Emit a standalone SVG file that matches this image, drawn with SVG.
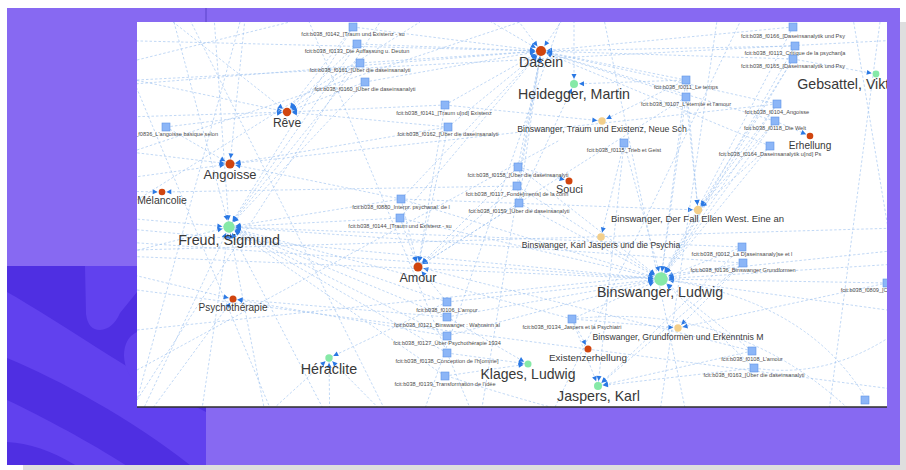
<svg xmlns="http://www.w3.org/2000/svg" width="906" height="470" viewBox="0 0 906 470">
<defs>
<style>
.e{stroke:#a6c7f1;stroke-width:0.7;stroke-dasharray:2.5 2;fill:none}
.a33{marker-end:url(#m33)}.a35{marker-end:url(#m35)}.a37{marker-end:url(#m37)}.a4{marker-end:url(#m4)}.a45{marker-end:url(#m45)}.a5{marker-end:url(#m5)}.a6{marker-end:url(#m6)}.a7{marker-end:url(#m7)}
.sq{fill:#8cb6f7;stroke:#5f95e6;stroke-width:0.6}
.red{fill:#d0450f}.grn{fill:#86e9a7}.yel{fill:#f3cf8b}
text{font-family:"Liberation Sans",Arial,sans-serif}
.sl{font-size:5.6px;fill:#4a4a4a;text-anchor:middle}
.lb{fill:#383838;text-anchor:middle}
</style>
<marker id="m33" markerUnits="userSpaceOnUse" orient="auto" markerWidth="6" markerHeight="6" refX="9.3" refY="2.5" overflow="visible"><path d="M0,0 L5,2.5 L0,5 Z" fill="#2a78e4"/></marker>
<marker id="m35" markerUnits="userSpaceOnUse" orient="auto" markerWidth="6" markerHeight="6" refX="9.5" refY="2.5" overflow="visible"><path d="M0,0 L5,2.5 L0,5 Z" fill="#2a78e4"/></marker>
<marker id="m37" markerUnits="userSpaceOnUse" orient="auto" markerWidth="6" markerHeight="6" refX="9.7" refY="2.5" overflow="visible"><path d="M0,0 L5,2.5 L0,5 Z" fill="#2a78e4"/></marker>
<marker id="m4" markerUnits="userSpaceOnUse" orient="auto" markerWidth="6" markerHeight="6" refX="10" refY="2.5" overflow="visible"><path d="M0,0 L5,2.5 L0,5 Z" fill="#2a78e4"/></marker>
<marker id="m45" markerUnits="userSpaceOnUse" orient="auto" markerWidth="6" markerHeight="6" refX="10.5" refY="2.5" overflow="visible"><path d="M0,0 L5,2.5 L0,5 Z" fill="#2a78e4"/></marker>
<marker id="m5" markerUnits="userSpaceOnUse" orient="auto" markerWidth="6" markerHeight="6" refX="11" refY="2.5" overflow="visible"><path d="M0,0 L5,2.5 L0,5 Z" fill="#2a78e4"/></marker>
<marker id="m6" markerUnits="userSpaceOnUse" orient="auto" markerWidth="6" markerHeight="6" refX="11.7" refY="2.5" overflow="visible"><path d="M0,0 L5,2.5 L0,5 Z" fill="#2a78e4"/></marker>
<marker id="m7" markerUnits="userSpaceOnUse" orient="auto" markerWidth="6" markerHeight="6" refX="12.7" refY="2.5" overflow="visible"><path d="M0,0 L5,2.5 L0,5 Z" fill="#2a78e4"/></marker>
<clipPath id="panel"><rect x="137" y="22" width="750" height="385"/></clipPath>
<clipPath id="dark"><rect x="7" y="266" width="199" height="199"/></clipPath>
</defs>

<!-- background -->
<rect x="0" y="0" width="906" height="470" fill="#ffffff"/>
<rect x="23" y="22" width="893" height="457" fill="#dedede"/>
<rect x="7" y="8" width="893" height="457" fill="#8769f2"/>
<g id="dark-block" clip-path="url(#dark)">
<rect x="7" y="266" width="199" height="199" fill="#4f2fe2"/>
<path d="M7,292 C60,322 130,372 206,412 L206,465 L190,465 C130,418 60,380 7,358 Z" fill="#6141ee"/>
<path d="M7,400 C45,418 95,445 130,468 L80,468 C55,452 30,443 7,442 Z" fill="#6141ee"/>
<path d="M85,266 L86,314 Q88,330 100,330 Q113,329 120,313 L137,292 L137,266 Z" fill="#6141ee"/>
<path d="M137,332 Q124,338 124,356 Q125,374 137,382 Z" fill="#6141ee"/>
</g>
<line x1="206" y1="8" x2="206" y2="22" stroke="#5a44c9" stroke-width="1"/>

<!-- panel -->
<rect x="137" y="22" width="750" height="385" fill="#ffffff"/>

<g clip-path="url(#panel)">
<g id="edges">
<!-- to Dasein -->
<line class="e a5" x1="353" y1="27" x2="541" y2="51"/>
<line class="e a5" x1="357" y1="44" x2="541" y2="51"/>
<line class="e a5" x1="360" y1="63" x2="541" y2="51"/>
<line class="e a5" x1="365" y1="82" x2="541" y2="51"/>
<line class="e a5" x1="445" y1="105" x2="541" y2="51"/>
<line class="e a5" x1="448" y1="127" x2="541" y2="51"/>
<line class="e a5" x1="518" y1="167" x2="541" y2="51"/>
<line class="e a5" x1="517" y1="186" x2="541" y2="51"/>
<line class="e a5" x1="519" y1="203" x2="541" y2="51"/>
<line class="e a5" x1="793" y1="27" x2="541" y2="51"/>
<line class="e a5" x1="795" y1="46" x2="541" y2="51"/>
<line class="e a5" x1="793" y1="59" x2="541" y2="51"/>
<line class="e a5" x1="686" y1="80" x2="541" y2="51"/>
<line class="e a5" x1="686" y1="97" x2="541" y2="51"/>
<line class="e a5" x1="777" y1="104" x2="541" y2="51"/>
<line class="e a5" x1="775" y1="121" x2="541" y2="51"/>
<line class="e a5" x1="770" y1="146" x2="541" y2="51"/>
<line class="e a5" x1="401" y1="199" x2="541" y2="51"/>
<line class="e a5" x1="400" y1="218" x2="541" y2="51"/>
<line class="e a5" x1="420" y1="-20" x2="541" y2="51"/>
<line class="e a5" x1="480" y1="-30" x2="541" y2="51"/>
<line class="e a5" x1="100" y1="40" x2="541" y2="51"/>
<line class="e a5" x1="60" y1="90" x2="541" y2="51"/>
<line class="e a5" x1="590" y1="-20" x2="541" y2="51"/>
<line class="e a5" x1="470" y1="480" x2="541" y2="51"/>
<!-- to Heidegger -->
<line class="e a4" x1="574" y1="-20" x2="574" y2="84"/>
<line class="e a4" x1="686" y1="80" x2="574" y2="84"/>
<line class="e a4" x1="519" y1="203" x2="574" y2="84"/>
<!-- to Reve -->
<line class="e a4" x1="353" y1="27" x2="287" y2="112"/>
<line class="e a4" x1="357" y1="44" x2="287" y2="112"/>
<line class="e a4" x1="360" y1="63" x2="287" y2="112"/>
<line class="e a4" x1="365" y1="82" x2="287" y2="112"/>
<line class="e a4" x1="445" y1="105" x2="287" y2="112"/>
<line class="e a4" x1="448" y1="127" x2="287" y2="112"/>
<line class="e a4" x1="166" y1="127" x2="287" y2="112"/>
<line class="e a4" x1="40" y1="60" x2="287" y2="112"/>
<line class="e a4" x1="30" y1="120" x2="287" y2="112"/>
<line class="e a4" x1="120" y1="-20" x2="287" y2="112"/>
<!-- to Angoisse -->
<line class="e a45" x1="777" y1="104" x2="230" y2="164"/>
<line class="e a45" x1="166" y1="127" x2="230" y2="164"/>
<line class="e a45" x1="30" y1="140" x2="230" y2="164"/>
<line class="e a45" x1="40" y1="190" x2="230" y2="164"/>
<line class="e a45" x1="448" y1="127" x2="230" y2="164"/>
<line class="e a45" x1="401" y1="199" x2="230" y2="164"/>
<line class="e a45" x1="250" y1="-30" x2="230" y2="164"/>
<!-- to Melancolie -->
<line class="e a33" x1="60" y1="190" x2="162" y2="192"/>
<line class="e a33" x1="517" y1="186" x2="162" y2="192"/>
<!-- to Freud -->
<line class="e a6" x1="401" y1="199" x2="229" y2="227"/>
<line class="e a6" x1="400" y1="218" x2="229" y2="227"/>
<line class="e a6" x1="447" y1="302" x2="229" y2="227"/>
<line class="e a6" x1="447" y1="317" x2="229" y2="227"/>
<line class="e a6" x1="447" y1="336" x2="229" y2="227"/>
<line class="e a6" x1="447" y1="353" x2="229" y2="227"/>
<line class="e a6" x1="445" y1="376" x2="229" y2="227"/>
<line class="e a6" x1="572" y1="319" x2="229" y2="227"/>
<line class="e a6" x1="743" y1="263" x2="229" y2="227"/>
<line class="e a6" x1="742" y1="247" x2="229" y2="227"/>
<line class="e a6" x1="353" y1="27" x2="229" y2="227"/>
<line class="e a6" x1="357" y1="44" x2="229" y2="227"/>
<line class="e a6" x1="360" y1="63" x2="229" y2="227"/>
<line class="e a6" x1="365" y1="82" x2="229" y2="227"/>
<line class="e a6" x1="30" y1="210" x2="229" y2="227"/>
<line class="e a6" x1="20" y1="280" x2="229" y2="227"/>
<line class="e a6" x1="160" y1="-30" x2="229" y2="227"/>
<line class="e a6" x1="210" y1="-40" x2="229" y2="227"/>
<line class="e a6" x1="110" y1="480" x2="229" y2="227"/>
<line class="e a6" x1="190" y1="490" x2="229" y2="227"/>
<line class="e a6" x1="280" y1="490" x2="229" y2="227"/>
<line class="e a6" x1="360" y1="480" x2="229" y2="227"/>
<!-- to Psychotherapie -->
<line class="e a35" x1="447" y1="336" x2="233" y2="299"/>
<line class="e a35" x1="447" y1="317" x2="233" y2="299"/>
<line class="e a35" x1="30" y1="250" x2="233" y2="299"/>
<line class="e a35" x1="100" y1="480" x2="233" y2="299"/>
<!-- to Heraclite -->
<line class="e a37" x1="447" y1="302" x2="329" y2="358"/>
<line class="e a37" x1="250" y1="430" x2="329" y2="358"/>
<line class="e a37" x1="330" y1="440" x2="329" y2="358"/>
<line class="e a37" x1="410" y1="440" x2="329" y2="358"/>
<!-- to Amour -->
<line class="e a45" x1="447" y1="302" x2="418" y2="267"/>
<line class="e a45" x1="686" y1="97" x2="418" y2="267"/>
<line class="e a45" x1="518" y1="167" x2="418" y2="267"/>
<line class="e a45" x1="517" y1="186" x2="418" y2="267"/>
<line class="e a45" x1="519" y1="203" x2="418" y2="267"/>
<line class="e a45" x1="445" y1="105" x2="418" y2="267"/>
<line class="e a45" x1="448" y1="127" x2="418" y2="267"/>
<line class="e a45" x1="752" y1="351" x2="418" y2="267"/>
<line class="e a45" x1="400" y1="218" x2="418" y2="267"/>
<line class="e a45" x1="401" y1="199" x2="418" y2="267"/>
<!-- to Souci -->
<line class="e a35" x1="518" y1="167" x2="569" y2="181"/>
<!-- to Binswanger, Traum -->
<line class="e a37" x1="445" y1="105" x2="602" y2="121"/>
<line class="e a37" x1="686" y1="80" x2="602" y2="121"/>
<!-- to Ellen West -->
<line class="e a4" x1="770" y1="146" x2="698" y2="210"/>
<line class="e a4" x1="775" y1="121" x2="698" y2="210"/>
<line class="e a4" x1="777" y1="104" x2="698" y2="210"/>
<line class="e a4" x1="686" y1="97" x2="698" y2="210"/>
<line class="e a4" x1="686" y1="80" x2="698" y2="210"/>
<line class="e a4" x1="401" y1="199" x2="698" y2="210"/>
<line class="e a4" x1="793" y1="59" x2="698" y2="210"/>
<!-- to Karl Jaspers Psychia -->
<line class="e a37" x1="624" y1="143" x2="601" y2="237"/>
<!-- to Binswanger, Ludwig -->
<line class="e a7" x1="770" y1="146" x2="661" y2="279"/>
<line class="e a7" x1="777" y1="104" x2="661" y2="279"/>
<line class="e a7" x1="775" y1="121" x2="661" y2="279"/>
<line class="e a7" x1="793" y1="59" x2="661" y2="279"/>
<line class="e a7" x1="795" y1="46" x2="661" y2="279"/>
<line class="e a7" x1="793" y1="27" x2="661" y2="279"/>
<line class="e a7" x1="742" y1="247" x2="661" y2="279"/>
<line class="e a7" x1="743" y1="263" x2="661" y2="279"/>
<line class="e a7" x1="572" y1="319" x2="661" y2="279"/>
<line class="e a7" x1="752" y1="351" x2="661" y2="279"/>
<line class="e a7" x1="754" y1="368" x2="661" y2="279"/>
<line class="e a7" x1="518" y1="167" x2="661" y2="279"/>
<line class="e a7" x1="517" y1="186" x2="661" y2="279"/>
<line class="e a7" x1="519" y1="203" x2="661" y2="279"/>
<line class="e a7" x1="401" y1="199" x2="661" y2="279"/>
<line class="e a7" x1="400" y1="218" x2="661" y2="279"/>
<line class="e a7" x1="447" y1="302" x2="661" y2="279"/>
<line class="e a7" x1="447" y1="317" x2="661" y2="279"/>
<line class="e a7" x1="447" y1="336" x2="661" y2="279"/>
<line class="e a7" x1="624" y1="143" x2="661" y2="279"/>
<line class="e a7" x1="686" y1="80" x2="661" y2="279"/>
<line class="e a7" x1="686" y1="97" x2="661" y2="279"/>
<line class="e a7" x1="960" y1="260" x2="661" y2="279"/>
<line class="e a7" x1="960" y1="320" x2="661" y2="279"/>
<line class="e a7" x1="887" y1="283" x2="661" y2="279"/>
<line class="e a7" x1="-20" y1="215" x2="661" y2="279"/>
<line class="e a7" x1="-20" y1="232" x2="661" y2="279"/>
<line class="e a7" x1="-20" y1="250" x2="661" y2="279"/>
<!-- to Grundformen -->
<line class="e a37" x1="572" y1="319" x2="678" y2="328"/>
<line class="e a37" x1="743" y1="263" x2="678" y2="328"/>
<line class="e a37" x1="887" y1="283" x2="678" y2="328"/>
<!-- to Existenzerhellung -->
<line class="e a35" x1="572" y1="319" x2="588" y2="349"/>
<!-- to Klages -->
<line class="e a35" x1="447" y1="353" x2="528" y2="364"/>
<line class="e a35" x1="445" y1="376" x2="528" y2="364"/>
<line class="e a35" x1="447" y1="317" x2="528" y2="364"/>
<!-- to Jaspers -->
<line class="e a4" x1="572" y1="319" x2="598" y2="386"/>
<line class="e a4" x1="624" y1="143" x2="598" y2="386"/>
<line class="e a4" x1="742" y1="247" x2="598" y2="386"/>
<line class="e a4" x1="752" y1="351" x2="598" y2="386"/>
<line class="e a4" x1="754" y1="368" x2="598" y2="386"/>
<line class="e a4" x1="743" y1="263" x2="598" y2="386"/>
<!-- to Erhellung, Gebsattel -->
<line class="e a33" x1="775" y1="121" x2="810" y2="136"/>
<line class="e a33" x1="793" y1="59" x2="876" y2="74"/>
<!-- pass-through -->
<line class="e" x1="100" y1="0" x2="300" y2="480"/>
<line class="e" x1="180" y1="0" x2="420" y2="480"/>
<line class="e" x1="300" y1="0" x2="500" y2="480"/>
<line class="e" x1="137" y1="80" x2="900" y2="40"/>
<line class="e" x1="137" y1="250" x2="900" y2="228"/>
<line class="e" x1="137" y1="330" x2="900" y2="250"/>
<line class="e" x1="137" y1="370" x2="560" y2="140"/>
<line class="e" x1="600" y1="0" x2="700" y2="480"/>
<line class="e" x1="720" y1="0" x2="650" y2="480"/>
<line class="e" x1="850" y1="0" x2="900" y2="300"/>
<line class="e" x1="137" y1="150" x2="520" y2="22"/>
<line class="e" x1="137" y1="400" x2="380" y2="22"/>
<line class="e" x1="880" y1="22" x2="820" y2="480"/>
<line class="e" x1="137" y1="290" x2="900" y2="390"/>
<line class="e" x1="400" y1="480" x2="560" y2="22"/>
<line class="e" x1="240" y1="22" x2="137" y2="400"/>
<line class="e" x1="137" y1="60" x2="290" y2="22"/>
<line class="e" x1="137" y1="200" x2="420" y2="22"/>
<line class="e" x1="520" y1="480" x2="740" y2="22"/>
<path class="e" d="M661,279 Q810,300 868,402"/>
<path class="e" d="M572,319 Q740,300 860,420"/>
<path class="e" d="M754,368 Q830,380 900,330"/>
<path class="e" d="M447,376 Q520,400 600,420"/>
</g>
</g>

<g id="nodes" clip-path="url(#panel)">
<g id="n-f0142"><rect class="sq" x="349" y="23" width="8" height="8"/><text class="sl" x="353" y="35.5">fcit:b038_f0142_[Traum und Existenz - su</text></g>
<g id="n-f0133"><rect class="sq" x="353" y="40" width="8" height="8"/><text class="sl" x="357" y="53">fcit:b038_f0133_Die Auffassung u. Deutun</text></g>
<g id="n-f0161"><rect class="sq" x="356" y="59" width="8" height="8"/><text class="sl" x="360" y="72">fcit:b038_f0161_[Über die daseinsanalyti</text></g>
<g id="n-f0160"><rect class="sq" x="361" y="78" width="8" height="8"/><text class="sl" x="365" y="91">fcit:b038_f0160_[Über die daseinsanalyti</text></g>
<g id="n-f0836"><rect class="sq" x="162" y="123" width="8" height="8"/><text class="sl" x="166" y="136">fcit:b038_f0836_L'angoisse basique selon</text></g>
<g id="n-f0141"><rect class="sq" x="441" y="101" width="8" height="8"/><text class="sl" x="444" y="115">fcit:b038_f0141_[Traum u[nd] Existenz</text></g>
<g id="n-f0162"><rect class="sq" x="444" y="123" width="8" height="8"/><text class="sl" x="448" y="136">fcit:b038_f0162_[Über die daseinsanalyti</text></g>
<g id="n-f0158"><rect class="sq" x="514" y="163" width="8" height="8"/><text class="sl" x="518" y="176.5">fcit:b038_f0158_[Über die daseinsanalyti</text></g>
<g id="n-f0117"><rect class="sq" x="513" y="182" width="8" height="8"/><text class="sl" x="517" y="195.5">fcit:b038_f0117_Fonde[ments] de la conn</text></g>
<g id="n-f0159"><rect class="sq" x="515" y="199" width="8" height="8"/><text class="sl" x="519" y="213">fcit:b038_f0159_[Über die daseinsanalyti</text></g>
<g id="n-f0115"><rect class="sq" x="620" y="139" width="8" height="8"/><text class="sl" x="624" y="152">fcit:b038_f0115_Trieb et Geist</text></g>
<g id="n-f0880"><rect class="sq" x="397" y="195" width="8" height="8"/><text class="sl" x="401" y="208.5">fcit:b038_f0880_Interpr. psychanal. de l</text></g>
<g id="n-f0144"><rect class="sq" x="396" y="214" width="8" height="8"/><text class="sl" x="400" y="227.5">fcit:b038_f0144_[Traum und Existenz - su</text></g>
<g id="n-f0106"><rect class="sq" x="443" y="298" width="8" height="8"/><text class="sl" x="447" y="312">fcit:b038_f0106_L'amour</text></g>
<g id="n-f0121"><rect class="sq" x="443" y="313" width="8" height="8"/><text class="sl" x="447" y="327">fcit:b038_f0121_Binswanger : Wahnsinn al</text></g>
<g id="n-f0127"><rect class="sq" x="443" y="332" width="8" height="8"/><text class="sl" x="447" y="345">fcit:b038_f0127_Über Psychothérapie 1934</text></g>
<g id="n-f0138"><rect class="sq" x="443" y="349" width="8" height="8"/><text class="sl" x="447" y="362.5">fcit:b038_f0138_Conception de l'h[omme]</text></g>
<g id="n-f0139"><rect class="sq" x="441" y="372" width="8" height="8"/><text class="sl" x="445" y="386">fcit:b038_f0139_Transformation de l'idée</text></g>
<g id="n-f0134"><rect class="sq" x="568" y="315" width="8" height="8"/><text class="sl" x="572" y="328.5">fcit:b038_f0134_Jaspers et la Psychiatri</text></g>
<g id="n-f0166"><rect class="sq" x="789" y="23" width="8" height="8"/><text class="sl" x="793" y="37.5">fcit:b038_f0166_[Daseinsanalytik und Psy</text></g>
<g id="n-f0113"><rect class="sq" x="791" y="42" width="8" height="8"/><text class="sl" x="795" y="55">fcit:b038_f0113_Critique de la psychan[a</text></g>
<g id="n-f0165"><rect class="sq" x="789" y="55" width="8" height="8"/><text class="sl" x="793" y="68">fcit:b038_f0165_[Daseinsanalytik und Psy</text></g>
<g id="n-f0011"><rect class="sq" x="682" y="76" width="8" height="8"/><text class="sl" x="686" y="89">fcit:b038_f0011_Le temps</text></g>
<g id="n-f0107"><rect class="sq" x="682" y="93" width="8" height="8"/><text class="sl" x="686" y="106">fcit:b038_f0107_L'éternité et l'amour</text></g>
<g id="n-f0104"><rect class="sq" x="773" y="100" width="8" height="8"/><text class="sl" x="777" y="113.5">fcit:b038_f0104_Angoisse</text></g>
<g id="n-f0118"><rect class="sq" x="771" y="117" width="8" height="8"/><text class="sl" x="775" y="130">fcit:b038_f0118_Die Welt</text></g>
<g id="n-f0164"><rect class="sq" x="766" y="142" width="8" height="8"/><text class="sl" x="770" y="156">fcit:b038_f0164_Daseinsanalytik u[nd] Ps</text></g>
<g id="n-f0012"><rect class="sq" x="738" y="243" width="8" height="8"/><text class="sl" x="742" y="255.5">fcit:b038_f0012_La D[aseinsanaly]se et l</text></g>
<g id="n-f0136"><rect class="sq" x="739" y="259" width="8" height="8"/><text class="sl" x="743" y="272">fcit:b038_f0136_Binswanger Grundformen</text></g>
<g id="n-f0809"><rect class="sq" x="883" y="279" width="8" height="8"/><text class="sl" x="840.7" y="292" style="text-anchor:start">fcit:b038_f0809_[C</text></g>
<g id="n-f0108"><rect class="sq" x="748" y="347" width="8" height="8"/><text class="sl" x="752" y="360.5">fcit:b038_f0108_L'amour</text></g>
<g id="n-f0163"><rect class="sq" x="750" y="364" width="8" height="8"/><text class="sl" x="754" y="377">fcit:b038_f0163_[Über die daseinsanalyti</text></g>
<g id="n-sq-br"><rect class="sq" x="861" y="396" width="8" height="8"/></g>

<g id="n-dasein"><circle class="red" cx="541" cy="51" r="5"/><text class="lb" x="541" y="67" font-size="14.2">Dasein</text></g>
<g id="n-heidegger"><circle class="grn" cx="574" cy="84" r="4"/><text class="lb" x="574" y="99" font-size="14.2">Heidegger, Martin</text></g>
<g id="n-gebsattel"><circle class="grn" cx="876" cy="74" r="3.4"/><text class="lb" x="797.3" y="88.5" font-size="14.2" style="text-anchor:start">Gebsattel, Vikt</text></g>
<g id="n-reve"><circle class="red" cx="287" cy="112" r="4.2"/><text class="lb" x="287" y="127" font-size="12.1">Rêve</text></g>
<g id="n-angoisse"><circle class="red" cx="230" cy="164" r="4.5"/><text class="lb" x="230" y="179" font-size="12.9">Angoisse</text></g>
<g id="n-melancolie"><circle class="red" cx="162" cy="192" r="3.3"/><text class="lb" x="162" y="203.5" font-size="10.4">Mélancolie</text></g>
<g id="n-freud"><circle class="grn" cx="229" cy="227" r="5.7"/><text class="lb" x="229" y="244.5" font-size="14.3">Freud, Sigmund</text></g>
<g id="n-psychotherapie"><circle class="red" cx="233" cy="299" r="3.5"/><text class="lb" x="233" y="311" font-size="10">Psychothérapie</text></g>
<g id="n-heraclite"><circle class="grn" cx="329" cy="358" r="3.7"/><text class="lb" x="329" y="373.5" font-size="14.3">Héraclite</text></g>
<g id="n-amour"><circle class="red" cx="418" cy="267" r="4.5"/><text class="lb" x="418" y="282" font-size="12.6">Amour</text></g>
<g id="n-souci"><circle class="red" cx="569" cy="181" r="3.5"/><text class="lb" x="569.5" y="193" font-size="10.8">Souci</text></g>
<g id="n-bin-traum"><circle class="yel" cx="602" cy="121" r="3.7"/><text class="lb" x="602" y="132" font-size="8.7">Binswanger, Traum und Existenz, Neue Sch</text></g>
<g id="n-bin-ellen"><circle class="yel" cx="698" cy="210" r="4.2"/><text class="lb" x="697.5" y="222" font-size="9.5">Binswanger, Der Fall Ellen West. Eine an</text></g>
<g id="n-bin-kjp"><circle class="yel" cx="601" cy="237" r="3.8"/><text class="lb" x="601" y="247.5" font-size="8.5">Binswanger, Karl Jaspers und die Psychia</text></g>
<g id="n-binswanger"><circle class="grn" cx="661" cy="279" r="6.7"/><text class="lb" x="660" y="296.5" font-size="14.2">Binswanger, Ludwig</text></g>
<g id="n-bin-grund"><circle class="yel" cx="678" cy="328" r="3.7"/><text class="lb" x="678" y="339.5" font-size="8.7">Binswanger, Grundformen und Erkenntnis M</text></g>
<g id="n-existenzerhellung"><circle class="red" cx="588" cy="349" r="3.5"/><text class="lb" x="588" y="361" font-size="9.9">Existenzerhellung</text></g>
<g id="n-klages"><circle class="grn" cx="528" cy="364" r="3.5"/><text class="lb" x="528" y="378.5" font-size="14">Klages, Ludwig</text></g>
<g id="n-jaspers"><circle class="grn" cx="598" cy="386" r="4"/><text class="lb" x="598.5" y="401" font-size="14.2">Jaspers, Karl</text></g>
<g id="n-erhellung"><circle class="red" cx="810" cy="136" r="3.3"/><text class="lb" x="810" y="148.5" font-size="10.1">Erhellung</text></g>
</g>

<line x1="137" y1="407" x2="887" y2="407" stroke="#2d2d2d" stroke-width="1.4"/>
</svg>
